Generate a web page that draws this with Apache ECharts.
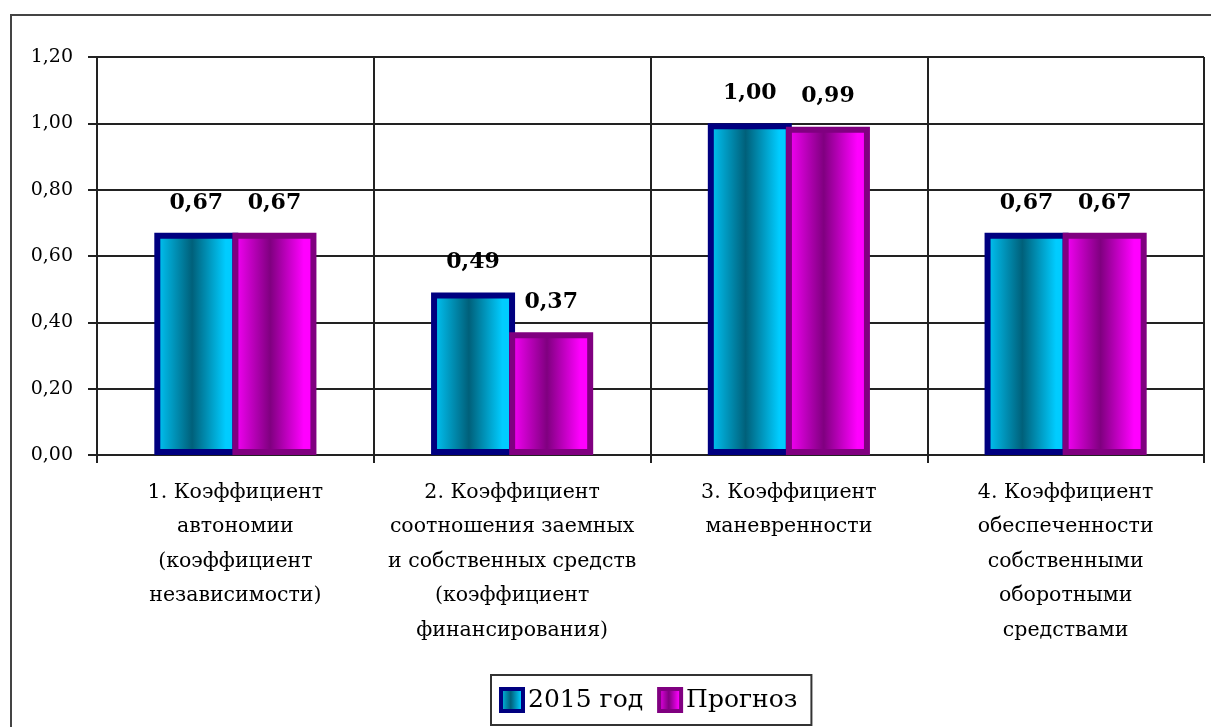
<!DOCTYPE html>
<html>
<head>
<meta charset="utf-8">
<script src="https://cdn.jsdelivr.net/npm/echarts@6/dist/echarts.min.js"></script>
<style>
  html, body { margin: 0; padding: 0; background: #fff; }
  #chart { width: 1211px; height: 727px; }
</style>
</head>
<body>
<div id="chart"></div>
<script>
// Financial stability ratios: 2015 vs forecast
const categories = [
  '1. Коэффициент\nавтономии\n(коэффициент\nнезависимости)',
  '2. Коэффициент\nсоотношения заемных\nи собственных средств\n(коэффициент\nфинансирования)',
  '3. Коэффициент\nманевренности',
  '4. Коэффициент\nобеспеченности\nсобственными\nоборотными\nсредствами'
];
const seriesNames = ['2015 год', 'Прогноз'];
const values2015 = [0.67, 0.49, 1.00, 0.67];
const valuesForecast = [0.67, 0.37, 0.99, 0.67];

const fmt = v => v.toFixed(2).replace('.', ',');
const serif = 'DejaVu Serif';

// Horizontal "cylinder" shading for the bars
function shade(edge, dark) {
  return {
    type: 'linear', x: 0, y: 0, x2: 1, y2: 0,
    colorStops: [
      { offset: 0, color: edge },
      { offset: 0.45, color: dark },
      { offset: 0.85, color: edge },
      { offset: 1, color: edge }
    ]
  };
}

const labelStyle = {
  show: true,
  position: 'top',
  distance: 19,
  formatter: p => fmt(p.value),
  fontFamily: serif,
  fontWeight: 'bold',
  fontSize: 22,
  color: '#000'
};

const chart = echarts.init(document.getElementById('chart'), null, { renderer: 'canvas' });
chart.setOption({
  animation: false,
  backgroundColor: '#fff',
  graphic: [{
    type: 'rect',
    z: -10,
    shape: { x: 11, y: 15, width: 1400, height: 900 },
    style: { fill: null, stroke: '#444', lineWidth: 2 }
  }],
  grid: { left: 97, top: 57, right: 7, bottom: 272, containLabel: false },
  legend: {
    left: 491,
    top: 675,
    padding: [12, 14, 12, 8],
    itemWidth: 22,
    itemHeight: 22,
    itemGap: 14,
    icon: 'rect',
    borderColor: '#333',
    borderWidth: 2,
    itemStyle: { borderWidth: 4 },
    textStyle: { fontFamily: serif, fontSize: 25, color: '#000' },
    data: seriesNames
  },
  xAxis: {
    type: 'category',
    data: categories,
    axisLine: { lineStyle: { color: '#222', width: 2 } },
    axisTick: { show: true, length: 8, lineStyle: { color: '#222', width: 2 } },
    splitLine: { show: true, lineStyle: { color: '#222', width: 2 } },
    axisLabel: {
      interval: 0,
      margin: 20,
      fontFamily: serif,
      fontSize: 20.5,
      lineHeight: 34.5,
      color: '#000',
      align: 'center'
    }
  },
  yAxis: {
    type: 'value',
    min: 0,
    max: 1.2,
    interval: 0.2,
    axisLine: { show: true, lineStyle: { color: '#222', width: 2 } },
    axisTick: { show: true, length: 9, lineStyle: { color: '#222', width: 2 } },
    splitLine: { show: true, lineStyle: { color: '#222', width: 2 } },
    axisLabel: {
      formatter: v => fmt(v),
      margin: 24,
      fontFamily: serif,
      fontSize: 19,
      color: '#000'
    }
  },
  series: [
    {
      name: seriesNames[0],
      type: 'bar',
      data: values2015,
      barWidth: 84,
      barGap: '-7%',
      itemStyle: {
        color: shade('#00CCFF', '#00607A'),
        borderColor: '#000080',
        borderWidth: 6
      },
      label: labelStyle
    },
    {
      name: seriesNames[1],
      type: 'bar',
      data: valuesForecast,
      barWidth: 84,
      barGap: '-7%',
      itemStyle: {
        color: shade('#FF00FF', '#800080'),
        borderColor: '#800080',
        borderWidth: 6
      },
      label: labelStyle
    }
  ]
});
</script>
</body>
</html>
